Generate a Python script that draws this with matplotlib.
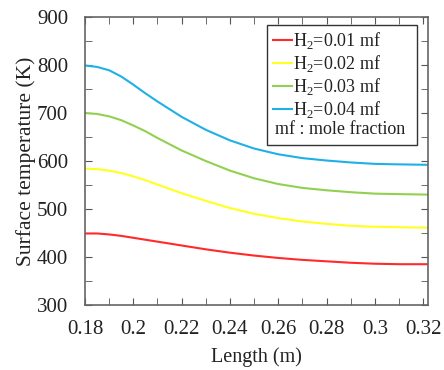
import matplotlib
matplotlib.use("Agg")
import matplotlib.pyplot as plt
from matplotlib.patches import Rectangle
from matplotlib.ticker import MultipleLocator

plt.rcParams['font.family'] = ['Liberation Serif', 'DejaVu Serif']
plt.rcParams['mathtext.fontset'] = 'custom'
plt.rcParams['mathtext.rm'] = 'Liberation Serif'

# values
length = [0.18, 0.185, 0.19, 0.195, 0.20, 0.205, 0.21, 0.22, 0.23, 0.24, 0.25,
          0.26, 0.27, 0.28, 0.29, 0.30, 0.31, 0.322]
t_h2_001 = [449, 449, 447, 444, 440, 436, 432, 424, 416, 409, 403,
            398, 394, 391, 388, 386, 385, 385]
t_h2_002 = [584, 583, 580, 575, 568, 560, 551, 533, 517, 502, 490,
            481, 474, 469, 465, 463, 462, 461]
t_h2_003 = [700, 698, 693, 685, 674, 662, 648, 622, 600, 580, 564,
            552, 544, 539, 535, 532, 531, 530]
t_h2_004 = [799, 796, 789, 776, 759, 741, 724, 692, 665, 643, 626,
            614, 606, 601, 597, 594, 593, 592]

labels = ['H$_2$=0.01 mf', 'H$_2$=0.02 mf', 'H$_2$=0.03 mf', 'H$_2$=0.04 mf']
note = 'mf : mole fraction'
colors = ['#ff2a2a', '#ffff20', '#92d050', '#1fb0e6']

fig = plt.figure(figsize=(4.44, 3.70), dpi=100)
ax = fig.add_axes([85/444, 1 - 305/370, (428 - 85)/444, (305 - 17)/370])

for y, lab, c in zip([t_h2_001, t_h2_002, t_h2_003, t_h2_004], labels, colors):
    ax.plot(length, y, color=c, lw=1.5, label=lab)

ax.set_xlim(0.18, 0.322)
ax.set_ylim(300, 900)
ax.xaxis.set_minor_locator(MultipleLocator(0.01))
ax.yaxis.set_major_locator(MultipleLocator(100))
ax.yaxis.set_minor_locator(MultipleLocator(50))
ax.set_xticks([0.18, 0.2, 0.22, 0.24, 0.26, 0.28, 0.3, 0.32])
ax.set_xticklabels(['0.18', '0.2', '0.22', '0.24', '0.26', '0.28', '0.3', '0.32'])

ax.tick_params(which='both', direction='in', top=True, right=True, color='#555555',
               labelsize=15, length=5, labelcolor='#222222')
ax.tick_params(axis='y', pad=12)
ax.tick_params(axis='x', pad=11)
for s in ax.spines.values():
    s.set_color('#666666')
    s.set_linewidth(1.2)

ax.set_xlabel('Length (m)', fontsize=14.5, labelpad=6, color='#222222')
ax.set_ylabel('Surface temperature (K)', fontsize=15.5, labelpad=1, color='#222222')

# legend box: four line entries plus a text-only note row
box = Rectangle((0.531, 0.556), 0.437, 0.416, transform=ax.transAxes,
                facecolor='white', edgecolor='#333333', lw=1.0, zorder=5)
ax.add_patch(box)
leg = ax.legend(loc='upper left', bbox_to_anchor=(0.531, 0.972), fontsize=13,
                frameon=False, handlelength=1.1, handletextpad=0.05,
                labelspacing=0.1, borderpad=0.3, borderaxespad=0)
leg.set_zorder(6)
for t in leg.get_texts():
    t.set_color('#222222')
ax.text(0.554, 0.608, note, transform=ax.transAxes, fontsize=13, va='center',
        ha='left', color='#222222', zorder=6)

fig.savefig('out.png', dpi=100)
